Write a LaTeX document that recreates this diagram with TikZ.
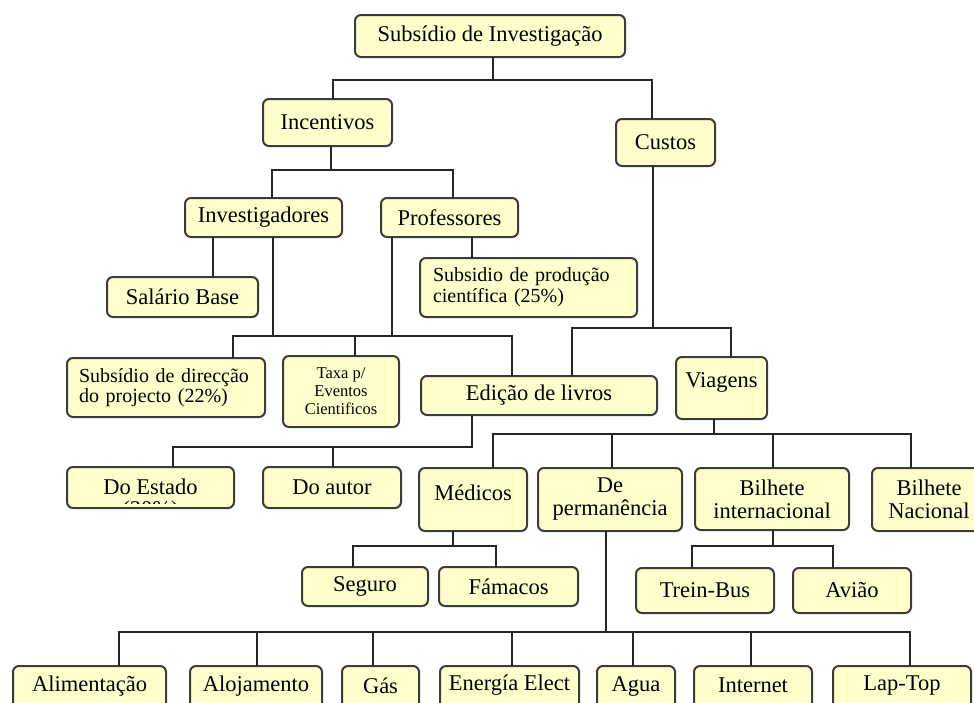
\documentclass[tikz,border=0pt]{standalone}
\usepackage{fontspec}
\setmainfont{Liberation Serif}
\definecolor{boxfill}{HTML}{FFFFCC}
\definecolor{boxline}{HTML}{3C3C3C}
\definecolor{linkcol}{HTML}{262626}
% raise a label inside its box without changing the box size
\newcommand\liftby[2]{\raisebox{#1}[\height][\depth]{#2}}
\begin{document}
\begin{tikzpicture}[x=1pt,y=-1pt,
  box/.style={draw=boxline, fill=boxfill, line width=2pt, rounded corners=6pt,
    inner sep=0pt, outer sep=0pt, align=center,
    font=\fontsize{22.5}{23}\selectfont},
  link/.style={draw=linkcol, line width=1.6pt},
]
\useasboundingbox (0,0) rectangle (974,702);

% --- top levels
\node[box, minimum width=270pt, minimum height=42pt] (root) at (490,36) {Subsídio de Investigação};
\node[box, minimum width=129pt, minimum height=47pt] (inc) at (327.5,122.5) {Incentivos};
\node[box, minimum width=99pt, minimum height=47pt] (cus) at (665.5,142.5) {Custos};
\node[box, minimum width=157pt, minimum height=39pt] (inv) at (263.5,217.5) {Investigadores};
\node[box, minimum width=137pt, minimum height=39pt] (prof) at (449.5,217.5) {Professores};
\node[box, minimum width=151pt, minimum height=40pt] (sal) at (182.5,297) {Salário Base};
\node[box, text width=191pt, inner xsep=13pt, minimum height=59pt, align=left,
  font=\fontsize{20}{21}\selectfont] (sprod) at (528.5,287.5) {Subsidio de produção\\científica (25\%)};
\node[box, text width=174pt, inner xsep=12pt, minimum height=59pt, align=left,
  font=\fontsize{20}{19.5}\selectfont] (sdir) at (166,387.5) {Subsídio de direcção\\do projecto (22\%)};
\node[box, minimum width=116pt, minimum height=71pt,
  font=\fontsize{16.5}{18}\selectfont] (taxa) at (341,391.5) {Taxa p/\\Eventos\\Cientificos};
\node[box, minimum width=236pt, minimum height=39pt] (edic) at (539,395.5) {Edição de livros};
\node[box, minimum width=91pt, minimum height=62pt] (viag) at (721.5,388) {\liftby{5.5pt}{Viagens}};

% --- book editions (second line of the state box is cut off by its border)
\node[box, minimum width=167pt, minimum height=41pt] (estado) at (150.5,487.5) {\liftby{1pt}{Do Estado}};
\begin{scope}
  \clip (68,470) rectangle (233,503);
  \node[font=\fontsize{22.5}{23}\selectfont, inner sep=0pt] (estadopct) at (150.5,511.5) {(30\%)};
\end{scope}
\node[box, minimum width=138pt, minimum height=41pt] (autor) at (332,487.5) {Do autor};

% --- travel
\node[box, minimum width=108pt, minimum height=63pt] (med) at (473,499.5) {\liftby{6.5pt}{Médicos}};
\node[box, minimum width=144pt, minimum height=63pt] (perm) at (610,499.5) {De\\permanência};
\node[box, minimum width=154pt, minimum height=62pt] (binter) at (772,499) {Bilhete\\internacional};
\node[box, minimum width=114pt, minimum height=63pt] (bnac) at (929,499.5) {Bilhete\\Nacional};
\node[box, minimum width=126pt, minimum height=39pt] (seguro) at (365,586.5) {Seguro};
\node[box, minimum width=139pt, minimum height=39pt] (farm) at (508.5,586.5) {Fámacos};
\node[box, minimum width=138pt, minimum height=45pt] (trein) at (705,590.5) {Trein-Bus};
\node[box, minimum width=118pt, minimum height=45pt] (aviao) at (852,590.5) {Avião};

% --- stay expenses (bottom row runs off the page)
\node[box, minimum width=153pt, minimum height=48pt] (alim) at (89.5,690) {\liftby{4pt}{Alimentação}};
\node[box, minimum width=132pt, minimum height=48pt] (aloj) at (256,690) {\liftby{4pt}{Alojamento}};
\node[box, minimum width=77pt, minimum height=48pt] (gas) at (380.5,690) {\liftby{4pt}{Gás}};
\node[box, minimum width=139pt, minimum height=48pt] (energ) at (509.5,690) {\liftby{5pt}{Energía Elect}};
\node[box, minimum width=78pt, minimum height=48pt] (agua) at (636,690) {\liftby{4pt}{Agua}};
\node[box, minimum width=118pt, minimum height=48pt] (inter) at (753,690) {\liftby{5pt}{Internet}};
\node[box, minimum width=138pt, minimum height=48pt] (lap) at (902,690) {\liftby{4pt}{Lap-Top}};

% --- connectors
\draw[link] ([xshift=3pt]root.south) -- ++(0,23) -| ([xshift=5.5pt]inc.north);
\draw[link] ([xshift=3pt]root.south) -- ++(0,23) -| ([xshift=-13.5pt]cus.north);

\draw[link] ([xshift=3.5pt]inc.south) -- ++(0,24) -| ([xshift=8.5pt]inv.north);
\draw[link] ([xshift=3.5pt]inc.south) -- ++(0,24) -| ([xshift=3.5pt]prof.north);

\draw[link] ([xshift=-50.5pt]inv.south) -- ([xshift=30.5pt]sal.north);
\draw[link] ([xshift=22.5pt]prof.south) -- ([xshift=-56.5pt]sprod.north);

\draw[link] ([xshift=67pt]sdir.north) -- ++(0,-22) -| ([xshift=-27pt]edic.north);
\draw[link] ([xshift=9.5pt]inv.south) -- ++(0,99);
\draw[link] ([xshift=-57.5pt]prof.south) -- ++(0,99);
\draw[link] ([xshift=14pt]taxa.north) -- ++(0,-20);

\draw[link] ([xshift=-12.5pt]cus.south) -- ++(0,162) -| ([xshift=33pt]edic.north);
\draw[link] ([xshift=-12.5pt]cus.south) -- ++(0,162) -| ([xshift=9.5pt]viag.north);

\draw[link] ([xshift=-67pt]edic.south) -- ++(0,32) -| ([xshift=22.5pt]estado.north);
\draw[link] ([xshift=-67pt]edic.south) -- ++(0,32) -| ([xshift=1pt]autor.north);

\foreach \t/\dx in {med/20, perm/2, binter/1, bnac/-18}
  \draw[link] ([xshift=-7.5pt]viag.south) -- ++(0,15) -| ([xshift=\dx pt]\t.north);

\draw[link] ([xshift=-20pt]med.south) -- ++(0,15) -| ([xshift=-12pt]seguro.north);
\draw[link] ([xshift=-20pt]med.south) -- ++(0,15) -| ([xshift=-12.5pt]farm.north);

\draw[link] ([xshift=1pt]binter.south) -- ++(0,16) -| ([xshift=-13pt]trein.north);
\draw[link] ([xshift=1pt]binter.south) -- ++(0,16) -| ([xshift=-19pt]aviao.north);

\foreach \t/\dx in {alim/29.5, aloj/1, gas/-7.5, energ/2.5, agua/-3, inter/-2, lap/8}
  \draw[link] ([xshift=-4pt]perm.south) -- ++(0,101) -| ([xshift=\dx pt]\t.north);
\end{tikzpicture}
\end{document}
